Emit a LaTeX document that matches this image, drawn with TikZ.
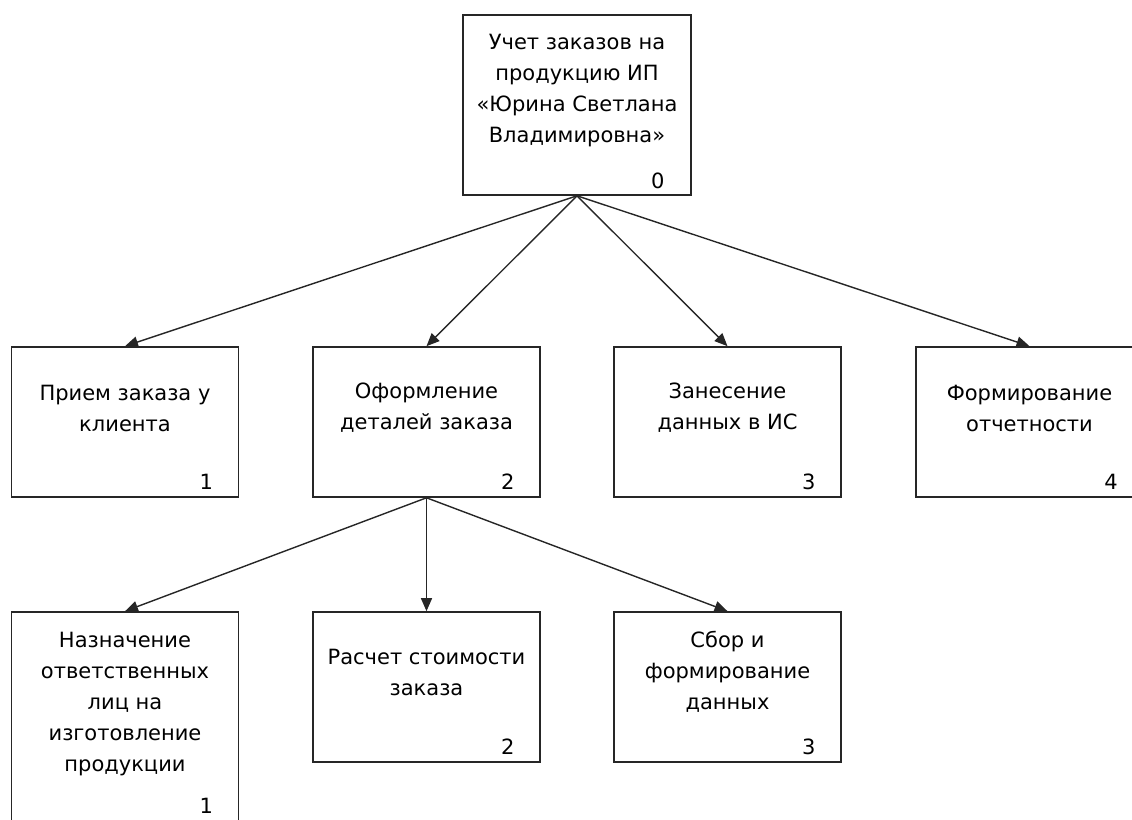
\documentclass[tikz,border=0pt]{standalone}
\usepackage{fontspec}
\setmainfont{DejaVu Sans}
\usetikzlibrary{arrows.meta}
\begin{document}
\begin{tikzpicture}[x=1pt,y=1pt,
  box/.style={draw=black!85, line width=1.6pt, minimum width=227pt, minimum height=150pt, inner sep=0pt},
  txt/.style={align=center, inner sep=0pt, font=\fontsize{21}{31}\selectfont},
  num/.style={anchor=base east, inner sep=0pt, font=\fontsize{21}{31}\selectfont},
  link/.style={draw=black!85, line width=1.4pt, -{Triangle[length=13pt,width=11pt]}}]
\useasboundingbox (0,0) rectangle (1132,819);

% root
\node[box, minimum width=228pt, minimum height=180pt] (n0) at (577,714) {};
\node[txt] at ([yshift=14]n0.center) {Учет заказов на\\продукцию ИП\\«Юрина Светлана\\Владимировна»};
\node[num] at ([xshift=-27,yshift=7]n0.south east) {0};

% second level
\node[box] (n1) at (125,397) {};
\node[box] (n2) at (426.5,397) {};
\node[box] (n3) at (727.5,397) {};
\node[box] (n4) at (1029.5,397) {};
\node[txt] at ([yshift=14]n1.center) {Прием заказа у\\клиента};
\node[txt] at ([yshift=14]n2.center) {Оформление\\деталей заказа};
\node[txt] at ([yshift=14]n3.center) {Занесение\\данных в ИС};
\node[txt] at ([yshift=14]n4.center) {Формирование\\отчетности};
\node[num] at ([xshift=-26,yshift=8]n1.south east) {1};
\node[num] at ([xshift=-26,yshift=8]n2.south east) {2};
\node[num] at ([xshift=-26,yshift=8]n3.south east) {3};
\node[num] at ([xshift=-26,yshift=8]n4.south east) {4};

% third level
\node[box, minimum height=212pt] (n21) at (125,101) {};
\node[box] (n22) at (426.5,132) {};
\node[box] (n23) at (727.5,132) {};
\node[txt] at ([yshift=14]n21.center) {Назначение\\ответственных\\лиц на\\изготовление\\продукции};
\node[txt] at ([yshift=15]n22.center) {Расчет стоимости\\заказа};
\node[txt] at ([yshift=15]n23.center) {Сбор и\\формирование\\данных};
\node[num] at ([xshift=-26,yshift=11]n21.south east) {1};
\node[num] at ([xshift=-26,yshift=8]n22.south east) {2};
\node[num] at ([xshift=-26,yshift=8]n23.south east) {3};

% connectors
\foreach \t in {n1,n2,n3,n4} \draw[link] (n0.south) -- (\t.north);
\foreach \t in {n21,n22,n23} \draw[link] (n2.south) -- (\t.north);
\end{tikzpicture}
\end{document}
